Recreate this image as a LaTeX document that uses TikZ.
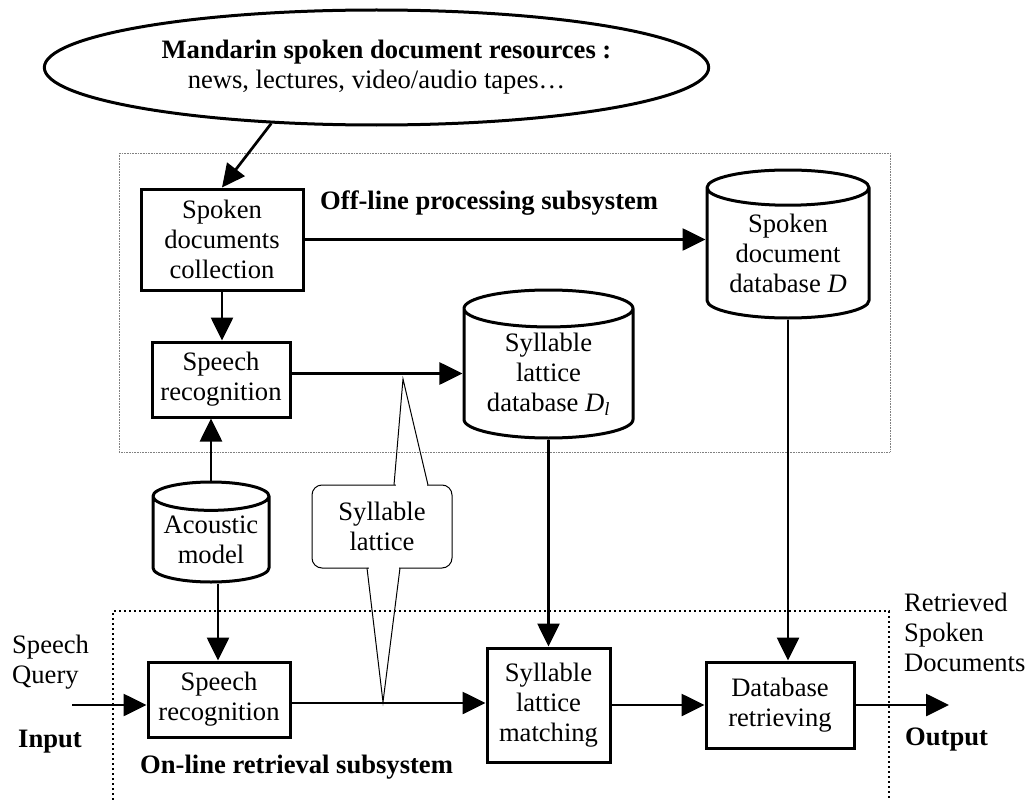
\documentclass[tikz,border=0pt]{standalone}
\usepackage{fontspec}
\setmainfont{Liberation Serif}
\usetikzlibrary{shapes.geometric,arrows.meta}
\newcommand{\figfont}{\fontsize{26.6}{30}\selectfont}
\begin{document}
\begin{tikzpicture}[x=1pt,y=1pt]
\tikzstyle{every node}+=[inner sep=0pt, font=\figfont, align=center]
\tikzstyle{procbox}=[draw, line width=3pt]
\tikzstyle{dbase}=[cylinder, shape border rotate=90, draw, line width=3pt, aspect=0.3]
\tikzstyle{arr}=[-{Triangle[length=23pt,width=22pt]}, line width=2.7pt]
\useasboundingbox (0,0) rectangle (1029,-800);
\draw [gray, line width=0.9pt, dash pattern=on 1pt off 0.6pt] (119,-153) rectangle (890,-452);
\draw [black, line width=2.6pt, dash pattern=on 2.4pt off 2.6pt] (113,-800) -- (113,-611) -- (889,-611) -- (889,-800);
\node [ellipse, draw, line width=3pt, minimum width=547pt, minimum height=115pt] (res) at (376.5,-67.5)
  {\hspace*{20pt}\textbf{Mandarin spoken document resources :}\\news, lectures, video/audio tapes…};
\node [procbox, minimum width=162pt, minimum height=101pt] (coll) at (222,-239.5) {Spoken\\documents\\collection};
\node [procbox, minimum width=138pt, minimum height=75pt] (srecoff) at (221,-379.5) {Speech\\recognition};
\node [procbox, minimum width=142pt, minimum height=75pt] (srecon) at (219,-699.5) {Speech\\recognition};
\node [procbox, minimum width=123pt, minimum height=114pt] (match) at (548.5,-705) {Syllable\\lattice\\matching};
\node [procbox, minimum width=148pt, minimum height=86pt] (dbret) at (780,-705) {Database\\retrieving};
\node [dbase, minimum width=162pt, minimum height=148pt, anchor=shape center] (sdb) at (788,-244) {Spoken\\document\\database \textit{D}};
\node [dbase, minimum width=169pt, minimum height=148pt, anchor=shape center] (sldb) at (548.5,-364) {Syllable\\lattice\\database \textit{D\textsubscript{l}}};
\node [dbase, minimum width=116pt, minimum height=100pt, anchor=shape center] (acm) at (211,-532) {Acoustic\\model};
\node [anchor=west] (offlbl) at (320,-203) {\textbf{Off-line processing subsystem}};
\node [anchor=west] (onlbl) at (140,-767) {\textbf{On-line retrieval subsystem}};
\node [anchor=west, align=left] (query) at (12,-662) {Speech\\Query};
\node [anchor=west] (inlbl) at (18,-742) {\textbf{Input}};
\node [anchor=west, align=left] (retr) at (904,-632) {Retrieved\\Spoken\\Documents};
\node [anchor=west] (outlbl) at (905,-740) {\textbf{Output}};
\node [draw, line width=1pt, rounded corners=10pt, minimum width=140pt, minimum height=83pt] (lat) at (382,-526.5) {Syllable\\lattice};
\fill [white] (395.5,-482) rectangle (426.5,-488);
\fill [white] (368.5,-565) rectangle (398.5,-571);
\draw [line width=1pt] (394,-485) -- (403,-379) -- (428,-485);
\draw [line width=1pt] (367,-568) -- (383,-702) -- (400,-568);
\coordinate (tap) at (383,-703);
\coordinate (qin) at (72,-705);
\coordinate (qout) at (949,-702);
\draw [arr] (res.208) -- (coll.north);
\draw [arr] (coll.south) -- (coll.south |- srecoff.north);
\draw [arr] (coll.east) -- (coll.east -| sdb.west);
\draw [arr] ([yshift=6pt]srecoff.east) -- ([yshift=6pt]srecoff.east -| sldb.west);
\draw [arr] (acm.north) -- (acm.north |- srecoff.south);
\draw [arr] ([xshift=7pt]acm.south) -- ([xshift=7pt]acm.south |- srecon.north);
\draw [arr] (qin) -- (qin -| srecon.west);
\draw [arr] (srecon.east |- tap) -- (tap -| match.west);
\draw [arr] (sldb.south) -- (sldb.south |- match.north);
\draw [arr] (match.east) -- (match.east -| dbret.west);
\draw [arr] (sdb.south) -- (sdb.south |- dbret.north);
\draw [arr] (dbret.east) -- (dbret.east -| qout);
\end{tikzpicture}
\end{document}
